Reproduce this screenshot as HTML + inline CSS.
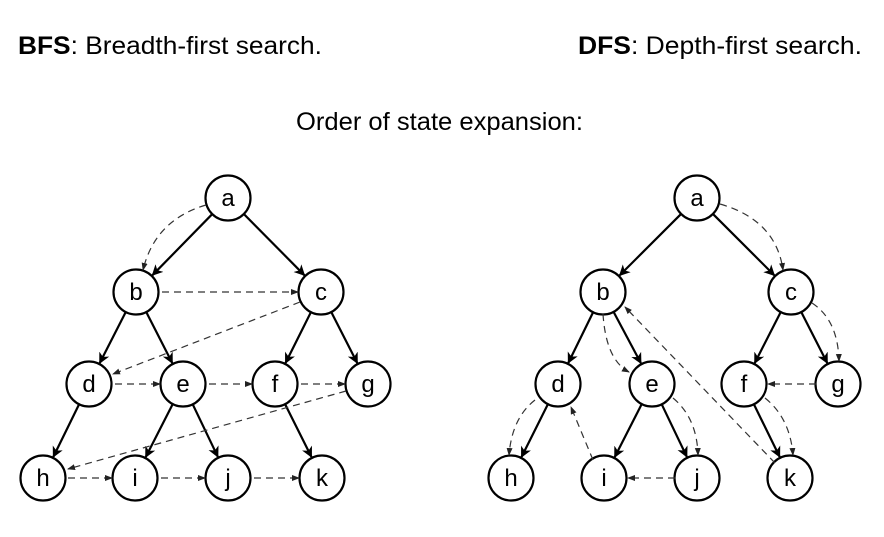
<!DOCTYPE html>
<html><head><meta charset="utf-8"><style>
html,body{margin:0;padding:0;background:#fff;}
svg{display:block;font-family:"Liberation Sans",sans-serif;}
</style></head><body>
<svg id="s" width="884" height="537" viewBox="0 0 884 537" xmlns="http://www.w3.org/2000/svg">
<defs>
<marker id="ah" markerWidth="11" markerHeight="11" refX="10" refY="5.5" orient="auto" markerUnits="userSpaceOnUse">
<path d="M0,0 L11,5.5 L0,11 L3,5.5 Z" fill="#000"/></marker>
<marker id="dh" markerWidth="8" markerHeight="8" refX="7" refY="4" orient="auto" markerUnits="userSpaceOnUse">
<path d="M0,1 L8,4 L0,7 Z" fill="#222"/></marker>
</defs>
<text x="18" y="54" font-size="25" textLength="304" lengthAdjust="spacingAndGlyphs"><tspan font-weight="bold">BFS</tspan>: Breadth-first search.</text>
<text x="578" y="54" font-size="25" textLength="284" lengthAdjust="spacingAndGlyphs"><tspan font-weight="bold">DFS</tspan>: Depth-first search.</text>
<text x="296" y="130" font-size="25" textLength="287" lengthAdjust="spacingAndGlyphs">Order of state expansion:</text>
<g id="g"></g>
</svg>
<script>
var NS="http://www.w3.org/2000/svg",G=document.getElementById("g"),R=22.5;
function el(t,a){var e=document.createElementNS(NS,t);for(var k in a)e.setAttribute(k,a[k]);G.appendChild(e);return e;}
var L={a:[228,198],b:[136,292],c:[321,292],d:[89,384],e:[183,384],f:[275,384],g:[368,384],h:[43,478],i:[135,478],j:[228,478],k:[322,478]};
var Rt={a:[697,198],b:[603,292],c:[791,292],d:[558,384],e:[652,384],f:[744,384],g:[838,384],h:[511,478],i:[604,478],j:[697,478],k:[790,478]};
var edges=[["a","b"],["a","c"],["b","d"],["b","e"],["c","f"],["c","g"],["d","h"],["e","i"],["e","j"],["f","k"]];
function tree(N){
 edges.forEach(function(p){var A=N[p[0]],B=N[p[1]];var dx=B[0]-A[0],dy=B[1]-A[1],l=Math.hypot(dx,dy);
 el("line",{x1:A[0]+dx/l*R,y1:A[1]+dy/l*R,x2:B[0]-dx/l*(R+1),y2:B[1]-dy/l*(R+1),stroke:"#000","stroke-width":2.2,"marker-end":"url(#ah)"});});
 for(var k in N){el("circle",{cx:N[k][0],cy:N[k][1],r:R,fill:"#fff",stroke:"#000","stroke-width":2.2});
 var t=el("text",{x:N[k][0],y:N[k][1]+8,"font-size":24,"text-anchor":"middle"});t.textContent=k;}
}
tree(L);tree(Rt);
function dl(x1,y1,x2,y2){el("line",{x1:x1,y1:y1,x2:x2,y2:y2,stroke:"#333","stroke-width":1.2,"stroke-dasharray":"7,5","marker-end":"url(#dh)"});}
function dc(d){el("path",{d:d,fill:"none",stroke:"#333","stroke-width":1.2,"stroke-dasharray":"7,5","marker-end":"url(#dh)"});}
// BFS
dc("M206,205 Q155,220 143,270");
dl(162,292,298,292);
dl(300,302,113,374);
dl(115,384,160,384);
dl(209,384,252,384);
dl(301,384,345,384);
dl(346,391,68,469);
dl(68,478,112,478);
dl(161,478,205,478);
dl(254,478,299,478);
// DFS
dc("M720,204 Q776,220 783,270");
dc("M603,314 Q606,360 629,372");
dc("M812,303 Q838,320 839,361");
dc("M535,400 Q512,418 509,455");
dc("M673,398 Q697,418 698,455");
dc("M765,398 Q790,418 793,455");
dl(593,460,571,407);
dl(675,478,628,478);
dl(775,463,625,307);
dl(816,384,768,384);
</script>
</body></html>
